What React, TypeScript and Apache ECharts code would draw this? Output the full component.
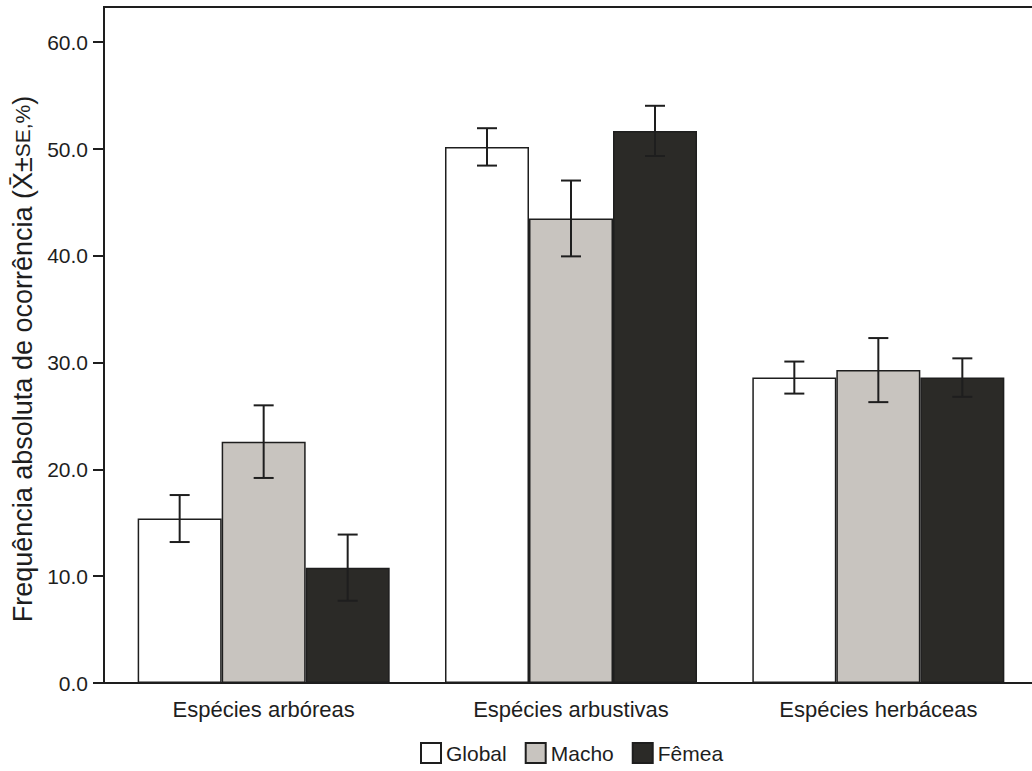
import React, { useEffect, useRef } from "react";
import * as echarts from "echarts";

const categories = ["Espécies arbóreas", "Espécies arbustivas", "Espécies herbáceas"];
const seriesNames = ["Global", "Macho", "Fêmea"];
const globalMean = [15.4, 50.2, 28.6];
const globalSE = [2.2, 1.75, 1.5];
const machoMean = [22.6, 43.5, 29.3];
const machoSE = [3.4, 3.55, 3.0];
const femeaMean = [10.8, 51.7, 28.6];
const femeaSE = [3.1, 2.35, 1.8];

const means = [globalMean, machoMean, femeaMean];
const ses = [globalSE, machoSE, femeaSE];
const colors = ["#ffffff", "#c8c4bf", "#2b2a27"];

const FONT = "'Liberation Sans', Arial, sans-serif";
const INK = "#1e1e1e";
const GAP = 0.18;

export default function App() {
  const ref = useRef<HTMLDivElement>(null);
  useEffect(() => {
    if (!ref.current) return;
    const chart = echarts.init(ref.current, null, { renderer: "svg" });
    const barSeries = seriesNames.map((name, k) => ({
      name,
      type: "bar",
      data: means[k],
      barGap: "0%",
      barCategoryGap: "18%",
      itemStyle: { color: colors[k], borderColor: INK, borderWidth: 1.5 },
      z: 2,
    }));
    const errSeries = seriesNames.map((name, k) => ({
      name: name + " SE",
      type: "custom",
      z: 5,
      data: means[k].map((m, i) => [i, m - ses[k][i], m + ses[k][i]]),
      renderItem: (params: any, api: any) => {
        const band = api.size([1, 0])[0];
        const bw = (band * (1 - GAP)) / 3;
        const off = (k - 1) * bw;
        const pHi = api.coord([api.value(0), api.value(2)]);
        const pLo = api.coord([api.value(0), api.value(1)]);
        const cx = pHi[0] + off;
        const cap = 10;
        const style = { stroke: INK, lineWidth: 2 };
        return {
          type: "group",
          children: [
            { type: "line", shape: { x1: cx, y1: pHi[1], x2: cx, y2: pLo[1] }, style },
            { type: "line", shape: { x1: cx - cap, y1: pHi[1], x2: cx + cap, y2: pHi[1] }, style },
            { type: "line", shape: { x1: cx - cap, y1: pLo[1], x2: cx + cap, y2: pLo[1] }, style },
          ],
        };
      },
    }));
    chart.setOption({
      animation: false,
      backgroundColor: "#ffffff",
      textStyle: { fontFamily: FONT },
      grid: { left: 110, right: -4, top: 7, bottom: 88 },
      legend: {
        data: seriesNames,
        left: 420,
        top: 742,
        padding: 0,
        itemWidth: 20,
        itemHeight: 20,
        itemGap: 18,
        icon: "rect",
        textStyle: { fontFamily: FONT, fontSize: 21, color: INK },
      },
      graphic: [
        { type: "line", shape: { x1: 103, y1: 7, x2: 1032, y2: 7 }, style: { stroke: INK, lineWidth: 2 }, z: 10 },
        { type: "line", shape: { x1: 103, y1: 683, x2: 112, y2: 683 }, style: { stroke: INK, lineWidth: 2 }, z: 10 },
      ],
      xAxis: {
        type: "category",
        data: categories,
        axisLine: { lineStyle: { color: INK, width: 2 } },
        axisTick: { alignWithLabel: true, length: 11, lineStyle: { color: INK, width: 2 } },
        axisLabel: { fontFamily: FONT, fontSize: 22, color: INK, margin: 15 },
      },
      yAxis: {
        type: "value",
        min: 0,
        max: 63.3,
        interval: 10,
        offset: 6,
        name: "{a|Frequência absoluta de ocorrência (X̄±}{b|SE,%}{a|)}",
        nameLocation: "middle",
        nameGap: 66,
        nameRotate: 90,
        nameTextStyle: {
          padding: [0, 28, 0, 0],
          rich: {
            a: { fontFamily: FONT, fontSize: 27, color: INK },
            b: { fontFamily: FONT, fontSize: 21, color: INK },
          },
        },
        splitLine: { show: false },
        axisLine: { show: true, lineStyle: { color: INK, width: 2 } },
        axisTick: { show: true, length: 11, lineStyle: { color: INK, width: 2 } },
        axisLabel: {
          fontFamily: FONT,
          fontSize: 21,
          color: INK,
          margin: 16,
          showMaxLabel: false,
          formatter: (v: number) => v.toFixed(1),
        },
      },
      series: [...barSeries, ...errSeries],
    });
    return () => chart.dispose();
  }, []);
  return (
    <div
      ref={ref}
      style={{ position: "absolute", left: 0, top: 0, width: 1032, height: 771 }}
    />
  );
}
